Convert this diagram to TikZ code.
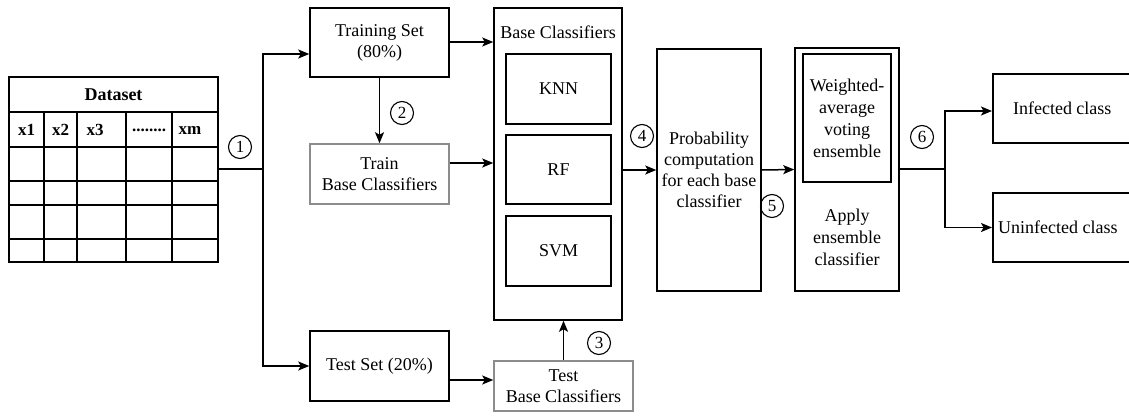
\documentclass[tikz,border=0pt]{standalone}
\usepackage{fontspec}
\setmainfont{Liberation Serif}
\usetikzlibrary{arrows.meta,calc}
\begin{document}
\begin{tikzpicture}[x=1pt,y=-1pt,
  every node/.style={font=\fontsize{18}{21}\selectfont},
  box/.style={draw,line width=1.5pt,inner sep=0pt,align=center},
  graybox/.style={draw=black!45,line width=1.5pt,inner sep=0pt,align=center},
  conn/.style={line width=1.5pt},
  arr/.style={line width=1.5pt,-{Stealth[length=11pt,width=9pt,inset=2.5pt]}},
  num/.style={draw,circle,line width=1.1pt,inner sep=0pt,minimum size=23pt,font=\fontsize{17}{17}\selectfont},
  tl/.style={line width=1.3pt}
]
\clip (0,0) rectangle (1129,415);
\useasboundingbox (0,0) rectangle (1129,415);
% dataset table
\node[draw,line width=1.5pt,minimum width=209pt,minimum height=185pt,inner sep=0pt] (dataset) at (113.5,169.5) {};
\draw[tl] (9,112) -- (218,112);
\foreach \yy in {147,181,205,239} \draw[tl] (9,\yy) -- (218,\yy);
\foreach \xx in {44,77,126,172} \draw[tl] (\xx,112) -- (\xx,262);
\node[font=\bfseries\fontsize{18}{21}\selectfont] (dtitle) at (113.5,95) {Dataset};
\node[font=\bfseries\fontsize{17}{21}\selectfont] (c1) at (26.5,130) {x1};
\node[font=\bfseries\fontsize{17}{21}\selectfont] (c2) at (60.5,130) {x2};
\node[font=\bfseries\fontsize{17}{21}\selectfont] (c3) at (95,130) {x3};
\node[font=\bfseries\fontsize{17}{21}\selectfont] (c4) at (149,130) {........};
\node[font=\bfseries\fontsize{17}{21}\selectfont] (c5) at (190,130) {xm};
% boxes
\node[box,minimum width=139pt,minimum height=69pt] (train) at (379.5,42.5) {Training Set\\(80\%)};
\node[graybox,minimum width=139pt,minimum height=60pt] (trainbc) at (379.5,174) {Train\\Base Classifiers};
\node[box,minimum width=139pt,minimum height=70pt] (test) at (379.5,366) {Test Set (20\%)};
\node[graybox,minimum width=139pt,minimum height=50pt] (testbc) at (563.5,386) {Test\\Base Classifiers};
\node[box,minimum width=128pt,minimum height=312pt] (base) at (558,164) {};
\node (baselbl) at (558,32) {Base Classifiers};
\node[box,minimum width=105pt,minimum height=70pt] (knn) at (558.5,89) {KNN};
\node[box,minimum width=105pt,minimum height=69pt] (rf) at (558.5,169.5) {RF};
\node[box,minimum width=105pt,minimum height=70pt] (svm) at (558.5,251) {SVM};
\node[box,minimum width=104pt,minimum height=242pt] (prob) at (709,170) {Probability\\computation\\for each base\\classifier};
\node[box,minimum width=104pt,minimum height=243pt] (apply) at (847,169.5) {};
\node[box,minimum width=88pt,minimum height=128pt,font=\fontsize{18}{22}\selectfont] (wav) at (847,118) {Weighted-\\average\\voting\\ensemble};
\node[align=center,font=\fontsize{18}{22}\selectfont] (applylbl) at (847,237) {Apply\\ensemble\\classifier};
\node[box,minimum width=140pt,minimum height=69pt,anchor=west] (inf) at (992,108.5) {\hspace*{-1pt}Infected class};
\node[box,minimum width=140pt,minimum height=69pt,anchor=west] (uninf) at (992,227.5) {\hspace*{-10pt}Uninfected class};
% connectors
\coordinate (s1) at (263,169);
\draw[conn] (dataset.east |- s1) -- (s1);
\draw[arr] (s1) |- ([yshift=-11.5pt]train.west);
\draw[arr] (s1) |- (test.west);
\draw[arr] ([yshift=0.5pt]train.east) -- ([yshift=0.5pt]train.east -| base.west);
\draw[arr] (train.south) -- (trainbc.north);
\draw[arr] ([yshift=11pt]trainbc.east) -- ([yshift=11pt]trainbc.east -| base.west);
\draw[arr] ([yshift=-14pt]test.east) -- ([yshift=-14pt]test.east -| testbc.west);
\draw[arr] (testbc.north) -- (testbc.north |- base.south);
\draw[arr] (base.east |- prob.west) -- (prob.west);
\draw[arr] (prob.east) -- (apply.west);
\coordinate (s2) at (945,169);
\draw[conn] (apply.east |- s2) -- (s2);
\draw[arr] (s2) |- ([yshift=-2.5pt]inf.west);
\draw[arr] (s2) |- (uninf.west);
% numbers
\node[num] (n1) at (240,147) {1};
\node[num] (n2) at (402,113) {2};
\node[num] (n3) at (599,343) {3};
\node[num] (n4) at (642,136) {4};
\node[num] (n5) at (772,206) {5};
\node[num] (n6) at (922,137) {6};
\end{tikzpicture}
\end{document}
